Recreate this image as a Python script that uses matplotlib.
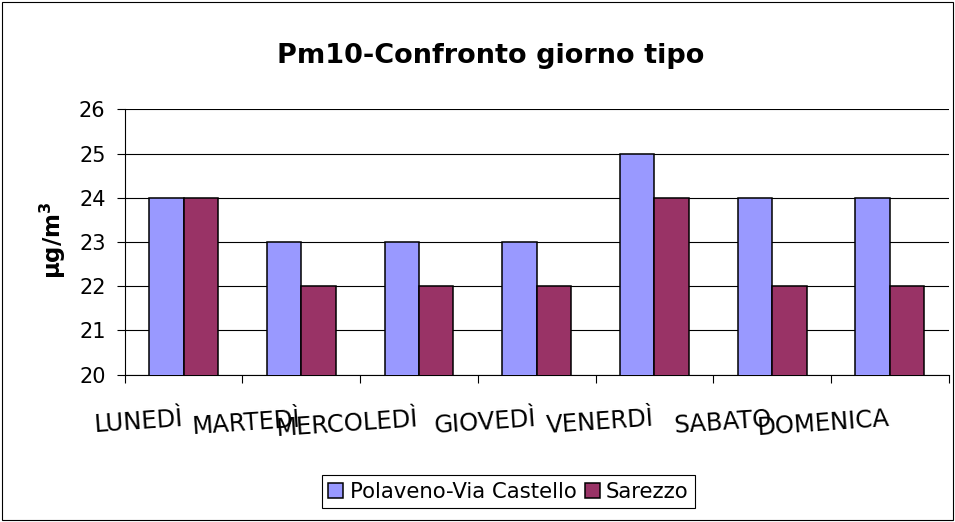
import matplotlib as mpl
mpl.use('Agg')
import matplotlib.pyplot as plt
import numpy as np
from matplotlib.patches import Rectangle

# dati
giorni = ['LUNEDÌ', 'MARTEDÌ', 'MERCOLEDÌ', 'GIOVEDÌ', 'VENERDÌ', 'SABATO', 'DOMENICA']
polaveno = [24, 23, 23, 23, 25, 24, 24]
sarezzo = [24, 22, 22, 22, 24, 22, 22]
yticks = [20, 21, 22, 23, 24, 25, 26]

fig = plt.figure(figsize=(9.55, 5.22), dpi=100)
ax = fig.add_axes([0.1306, 0.2824, 0.8628, 0.5082])

x = np.arange(len(giorni))
w = 0.292
ax.bar(x - w/2, polaveno, w, color='#9999FF', edgecolor='black', linewidth=1.1,
       label='Polaveno-Via Castello', zorder=3)
ax.bar(x + w/2, sarezzo, w, color='#993366', edgecolor='black', linewidth=1.1,
       label='Sarezzo', zorder=3)

ax.set_xlim(-0.5, len(giorni) - 0.5)
ax.set_ylim(20, 26)
ax.yaxis.grid(True, color='black', linewidth=0.8)
ax.set_axisbelow(True)
for s in ['top', 'right']:
    ax.spines[s].set_visible(False)
for s in ['left', 'bottom']:
    ax.spines[s].set_linewidth(0.8)

ax.set_yticks(yticks)
ax.tick_params(axis='y', direction='out', length=5.8, width=0.8, labelsize=15, pad=8)

# tacche tra le categorie, etichette al centro
ax.set_xticks(np.arange(-0.5, len(giorni), 1), minor=True)
ax.tick_params(axis='x', which='minor', direction='out', length=5.8, width=0.8)
ax.tick_params(axis='x', which='major', length=0, pad=37)
ax.set_xticks(x, giorni, fontsize=17.5, rotation=4, ha='right', va='baseline',
              rotation_mode='anchor')

ax.set_ylabel('µg/m$^{\\mathbf{3}}$', fontsize=16.5, fontweight='bold')
ax.yaxis.set_label_coords(-0.069, 0.505)

fig.text(0.5136, 1 - 63/522, 'Pm10-Confronto giorno tipo', ha='center', va='baseline',
         fontsize=19.5, fontweight='bold')

leg = fig.legend(loc='center', bbox_to_anchor=(0.5325, 0.0584), ncol=2, fontsize=15.3,
                 frameon=True, fancybox=False, edgecolor='black', framealpha=1,
                 handlelength=0.7, handleheight=0.7, handletextpad=0.3,
                 columnspacing=0.4, borderpad=0.3)
leg.get_frame().set_linewidth(0.8)

fig.patches.append(Rectangle((2/955, 2/522), 951/955, 518/522, transform=fig.transFigure,
                             fill=False, edgecolor='black', linewidth=0.8))

fig.savefig('out.png', dpi=100)
